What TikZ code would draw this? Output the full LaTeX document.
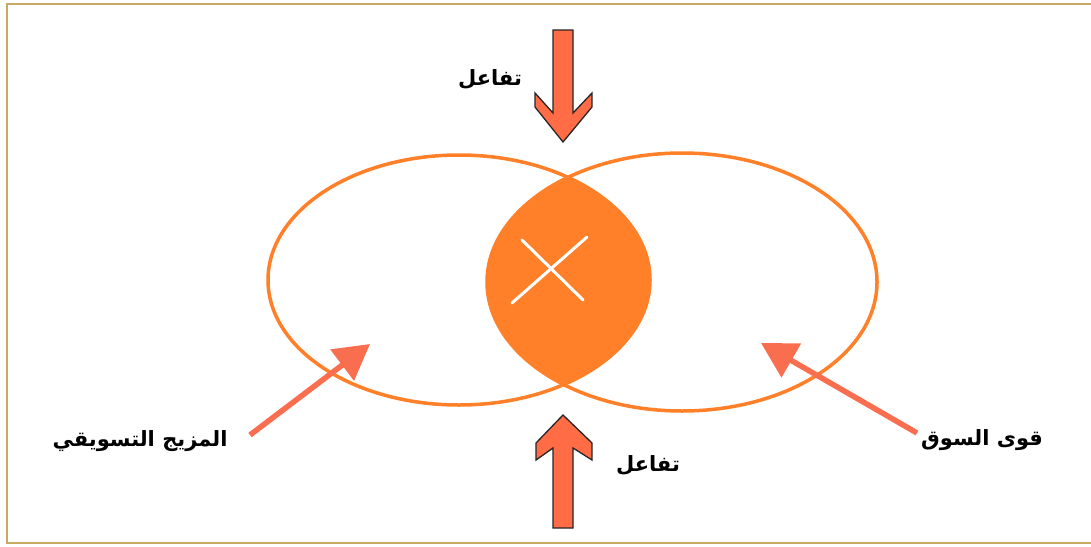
\documentclass[tikz,border=0pt]{standalone}
\usepackage{fontspec}
\newfontfamily\arabicfont[Script=Arabic]{DejaVu Sans}
\TeXXeTstate=1
\usetikzlibrary{arrows.meta}
\definecolor{ovalc}{RGB}{255,128,40}
\definecolor{blockc}{RGB}{255,108,70}
\definecolor{diagc}{RGB}{250,110,80}
\definecolor{framec}{RGB}{200,170,100}
\tikzset{
  oval/.style={draw=ovalc, line width=3.5pt},
  blockarrow/.style={fill=blockc, draw=black!85, line width=1.3pt, line join=miter},
  diagarrow/.style={draw=diagc, line width=5.5pt, -{Triangle[length=35pt,width=38pt]}},
  lbl/.style={font=\arabicfont\bfseries\fontsize{21}{24}\selectfont, text=black, inner sep=0pt},
}
\begin{document}
\begin{tikzpicture}[x=1pt,y=-1pt]
\useasboundingbox (0,0) rectangle (1091,546);
\fill[white] (0,0) rectangle (1091,546);
% frame
\draw[framec, line width=2pt] (1091,4) -- (7,4) -- (7,543) -- (1091,543);
% lens
\begin{scope}
  \clip (459,280) ellipse [x radius=191, y radius=125];
  \fill[ovalc] (682,282) ellipse [x radius=195, y radius=129];
\end{scope}
\draw[oval] (459,280) ellipse [x radius=191, y radius=125];
\draw[oval] (682,282) ellipse [x radius=195, y radius=129];
% X mark
\coordinate (xa1) at (522,240); \coordinate (xa2) at (583,300);
\coordinate (xb1) at (587,237); \coordinate (xb2) at (512,303);
\draw[white, line width=3pt, line cap=round] (xa1) -- (xa2);
\draw[white, line width=3pt, line cap=round] (xb1) -- (xb2);
% top block arrow
\draw[blockarrow] (553,30) -- (573,30) -- (573,113) -- (592,93) -- (592,107) -- (563,142)
  -- (535,107) -- (535,93) -- (553,113) -- cycle;
% bottom block arrow
\draw[blockarrow] (563,415) -- (592,443) -- (592,460) -- (573,448) -- (573,528) -- (553,528)
  -- (553,448) -- (536,460) -- (536,443) -- cycle;
% labels
\node[lbl] (top) at (490,79) {\beginR تفاعل\endR};
\node[lbl] (bot) at (648,465) {\beginR تفاعل\endR};
\node[lbl] (mix) at (140,441) {\beginR المزيج التسويقي\endR};
\node[lbl] (mkt) at (982,440) {\beginR قوى السوق\endR};
% diagonal arrows
\coordinate (ltail) at (250,435); \coordinate (ltip) at (370,344);
\coordinate (rtail) at (917,433); \coordinate (rtip) at (761,343);
\draw[diagarrow] (ltail) -- (ltip);
\draw[diagarrow] (rtail) -- (rtip);
\end{tikzpicture}
\end{document}
